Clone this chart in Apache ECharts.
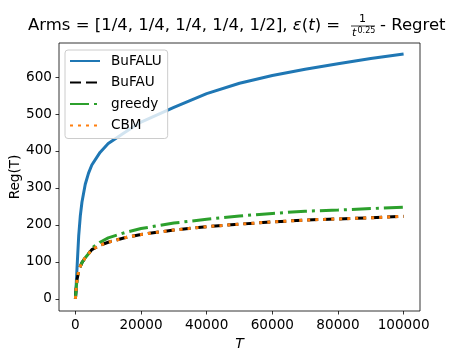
<!DOCTYPE html>
<html>
<head>
<meta charset="utf-8">
<script src="https://cdn.jsdelivr.net/npm/echarts@6/dist/echarts.min.js"></script>
<style>
  html, body { margin: 0; padding: 0; background: #fff; }
  #chart { width: 467px; height: 350px; }
</style>
</head>
<body>
<div id="chart"></div>
<script>
// horizon T and regret of each algorithm
var T = [0, 250, 500, 1000, 1500, 2000, 3000, 4000, 5000, 7500, 10000, 15000, 20000,
         30000, 40000, 50000, 60000, 70000, 80000, 90000, 100000];
var bufalu = [0, 40, 85, 170, 225, 262, 310, 340, 362, 396, 420, 450, 478,
              518, 555, 583, 604, 621, 636, 650, 662];
var bufau = [0, 30, 52, 75, 88, 98, 111, 122, 133, 145, 153, 165, 174,
             186, 195, 202, 208, 213, 216, 219, 223];
var greedy = [0, 30, 52, 75, 88, 98, 111, 122, 137, 153, 165, 179, 190,
              205, 215, 224, 231, 237, 240, 244, 248];
var cbm = [0, 30, 52, 75, 88, 98, 111, 122, 133, 145, 153, 165, 174,
           186, 195, 202, 208, 213, 216, 219, 223];

var xTicks = [0, 20000, 40000, 60000, 80000, 100000];
var yTicks = [0, 100, 200, 300, 400, 500, 600];

function pairs(ys) {
  return T.map(function (t, i) { return [t, ys[i]]; });
}

var FONT = 'DejaVu Sans';
var chart = echarts.init(document.getElementById('chart'));

chart.setOption({
  animation: false,
  backgroundColor: '#fff',
  textStyle: { fontFamily: FONT },
  graphic: [
    {
      type: 'text', left: 28, top: 17,
      style: {
        text: '{r|Arms = [1/4, 1/4, 1/4, 1/4, 1/2], }{i|ε}{r|(}{i|t}{r|) = }',
        rich: {
          r: { fontFamily: FONT, fontSize: 16.5, fill: '#000' },
          i: { fontFamily: FONT, fontSize: 16.5, fontStyle: 'italic', fill: '#000' }
        }
      }
    },
    // fraction 1 / t^0.25
    { type: 'text', x: 362.5, y: 24.5, style: { text: '1', fontFamily: FONT, fontSize: 11, fill: '#000', align: 'center', verticalAlign: 'bottom' } },
    { type: 'line', shape: { x1: 351, y1: 26, x2: 375, y2: 26 }, style: { stroke: '#000', lineWidth: 0.8 } },
    { type: 'text', x: 352, y: 27.5, style: { text: 't', fontFamily: FONT, fontSize: 11, fontStyle: 'italic', fill: '#000', verticalAlign: 'top' } },
    { type: 'text', x: 357.5, y: 26.5, style: { text: '0.25', fontFamily: FONT, fontSize: 8, fill: '#000', verticalAlign: 'top' } },
    {
      type: 'text', left: 380, top: 17,
      style: { text: '- Regret', fontFamily: FONT, fontSize: 16.5, fill: '#000' }
    },
    // y axis title
    {
      type: 'text', x: 15, y: 177, rotation: Math.PI / 2,
      style: { text: 'Reg(T)', fontFamily: FONT, fontSize: 13.6, fill: '#000', align: 'center', verticalAlign: 'middle' }
    }
  ],
  legend: {
    orient: 'vertical',
    left: 65,
    top: 50,
    itemWidth: 30,
    itemHeight: 16,
    itemGap: 7.5,
    padding: [4, 6, 6, 4],
    backgroundColor: 'rgba(255,255,255,0.8)',
    borderColor: '#cccccc',
    borderWidth: 1,
    borderRadius: 3,
    itemStyle: { opacity: 0 },
    textStyle: { fontFamily: FONT, fontSize: 13.6, color: '#000', padding: [0, 0, 0, 6] },
    data: ['BuFALU', 'BuFAU', 'greedy', 'CBM']
  },
  grid: {
    left: 59, top: 43, width: 361, height: 268,
    outerBoundsMode: 'none',
    containLabel: false,
    show: true, borderColor: '#000', borderWidth: 0.8
  },
  xAxis: {
    type: 'value',
    min: -5000, max: 105000,
    name: 'T',
    nameLocation: 'middle',
    nameGap: 24,
    nameTextStyle: { fontFamily: FONT, fontSize: 14, fontStyle: 'italic', color: '#000' },
    axisLine: { show: false, onZero: false },
    axisTick: { show: true, length: 3.5, customValues: xTicks, lineStyle: { color: '#000', width: 0.8 } },
    axisLabel: {
      customValues: xTicks, margin: 7, fontFamily: FONT, fontSize: 13.6, color: '#000',
      formatter: function (v) { return String(v); }
    },
    splitLine: { show: false }
  },
  yAxis: {
    type: 'value',
    min: -33, max: 692,
    axisLine: { show: false, onZero: false },
    axisTick: { show: true, length: 3.5, customValues: yTicks, lineStyle: { color: '#000', width: 0.8 } },
    axisLabel: { customValues: yTicks, margin: 7, fontFamily: FONT, fontSize: 13.6, color: '#000' },
    splitLine: { show: false }
  },
  series: [
    {
      name: 'BuFALU', type: 'line', data: pairs(bufalu), showSymbol: false, symbol: 'none',
      color: '#1f77b4', lineStyle: { color: '#1f77b4', width: 3 }
    },
    {
      name: 'BuFAU', type: 'line', data: pairs(bufau), showSymbol: false, symbol: 'none',
      color: '#000000', lineStyle: { color: '#000000', width: 3, type: [11, 5] }
    },
    {
      name: 'greedy', type: 'line', data: pairs(greedy), showSymbol: false, symbol: 'none',
      color: '#2ca02c', lineStyle: { color: '#2ca02c', width: 3, type: [19, 5, 3, 5] }
    },
    {
      name: 'CBM', type: 'line', data: pairs(cbm), showSymbol: false, symbol: 'none',
      color: '#ff7f0e', lineStyle: { color: '#ff7f0e', width: 3, type: [3, 5] }
    }
  ]
});
</script>
</body>
</html>
